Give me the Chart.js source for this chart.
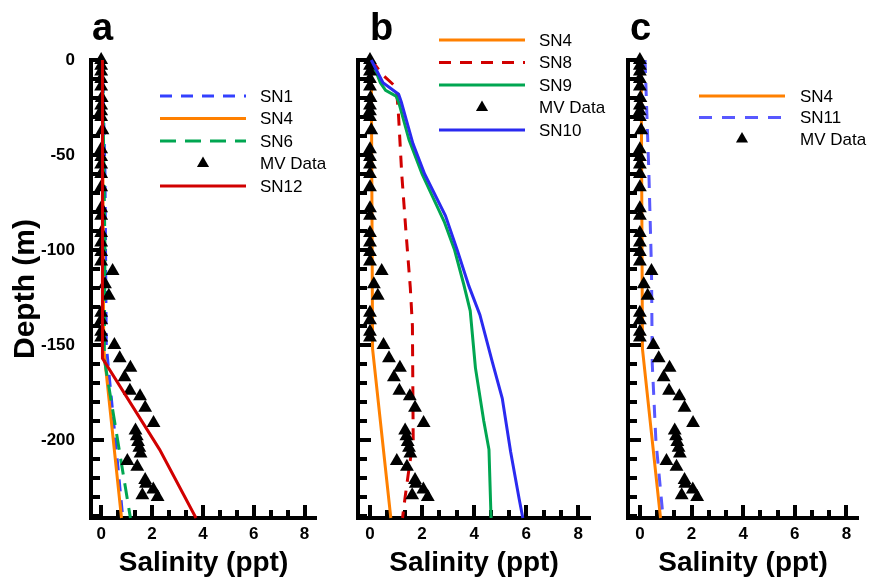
<!DOCTYPE html>
<html>
<head>
<meta charset="utf-8">
<script src="https://cdn.jsdelivr.net/npm/chart.js@4.4.1/dist/chart.umd.min.js"></script>
<style>
  html, body { margin: 0; padding: 0; background: #fff; }
  #wrap { position: relative; width: 880px; height: 581px; overflow: hidden; }
  canvas { position: absolute; top: 0; }
</style>
</head>
<body>
<div id="wrap">
  <canvas id="chartA" width="330" height="581" style="left:0"></canvas>
  <canvas id="chartB" width="280" height="581" style="left:330px"></canvas>
  <canvas id="chartC" width="280" height="581" style="left:600px"></canvas>
</div>
<script>
const FONT = "'Liberation Sans', Arial, Helvetica, sans-serif";

// ---- axis ticks ----
const X_TICKS = [0, 2, 4, 6, 8];
const Y_TICKS = [0, -50, -100, -150, -200];

// ---- data: depth (m, negative = down) and salinity (ppt) ----
const MV_DEPTH = [0, -3, -6, -10, -14, -20, -24, -27, -30, -37, -47, -51, -55, -60, -67, -78,
  -82, -91, -96, -101, -106, -111, -118, -124, -133, -137, -143, -146, -150, -157, -162, -167,
  -174, -177, -183, -191, -195, -198, -201, -204, -207, -211, -214, -221, -223, -226, -229, -230];
const MV_SAL = [0, 0, 0, 0, 0, 0.02, 0, 0, 0, 0.05, 0, 0, 0, 0, 0, 0,
  0, 0, 0, 0, 0, 0.45, 0.15, 0.3, 0, 0, 0, 0, 0.52, 0.73, 1.15, 0.92,
  1.13, 1.53, 1.73, 2.06, 1.35, 1.4, 1.45, 1.5, 1.55, 1.03, 1.42, 1.73, 1.76, 2.05, 1.62, 2.22];

const SN1_DEPTH = [0, -60, -150, -241];
const SN1_SAL   = [0.05, 0.15, 0.2, 0.85];
const SN4_DEPTH = [0, -152, -241];
const SN4_SAL   = [0.05, 0.1, 0.8];
const SN6_DEPTH = [0, -100, -157, -241];
const SN6_SAL   = [0.05, 0.15, 0.12, 1.15];
const SN12_DEPTH = [0, -157, -205, -241];
const SN12_SAL   = [0.05, 0.05, 2.3, 3.73];

const SN8_DEPTH = [0, -8, -13, -17, -30, -60, -90, -120, -140, -200, -215, -230, -241];
const SN8_SAL   = [0.05, 0.5, 0.9, 1.03, 1.1, 1.22, 1.38, 1.55, 1.63, 1.66, 1.5, 1.35, 1.25];
const SN9_DEPTH = [0, -12, -16, -19, -22, -42, -60, -85, -100, -118, -132, -162, -190, -205, -241];
const SN9_SAL   = [0.05, 0.4, 0.6, 1.0, 1.1, 1.5, 2.0, 2.85, 3.25, 3.6, 3.85, 4.05, 4.37, 4.57, 4.65];
const SN10_DEPTH = [0, -12, -18, -22, -44, -60, -82, -100, -119, -134, -159, -178, -206, -231, -241];
const SN10_SAL   = [0.05, 0.5, 1.1, 1.2, 1.65, 2.1, 2.9, 3.35, 3.8, 4.22, 4.7, 5.08, 5.4, 5.73, 5.87];

const SN11_DEPTH = [0, -20, -60, -110, -160, -200, -241];
const SN11_SAL   = [0.2, 0.25, 0.35, 0.45, 0.48, 0.62, 0.9];

const COLORS = {
  blue: '#3340ff',
  blue2: '#2a2af0',
  blue11: '#5858ff',
  orange: '#ff8000',
  green: '#00a651',
  red: '#d10000',
  black: '#000',
};

const pts = (xs, ys) => xs.map((x, i) => ({ x, y: ys[i] }));

function lineSet(label, sal, depth, color, dash) {
  return {
    label,
    data: pts(sal, depth),
    showLine: true,
    borderColor: color,
    backgroundColor: color,
    borderWidth: 3,
    borderDash: dash || [],
    pointRadius: 0,
    tension: 0,
    clip: false,
  };
}

function mvSet() {
  return {
    label: 'MV Data',
    data: pts(MV_SAL, MV_DEPTH),
    showLine: false,
    pointStyle: 'triangle',
    pointRadius: 8,
    backgroundColor: COLORS.black,
    borderColor: COLORS.black,
    borderWidth: 0,
    clip: false,
  };
}

// later datasets drawn on top
function stack(sets) {
  sets.forEach((s, i) => { s.order = sets.length - i; });
  return sets;
}

// ---- inward tick marks (major + minor) ----
const innerTicks = {
  id: 'innerTicks',
  beforeDatasetsDraw(chart) {
    const { ctx, chartArea: a, scales: { x, y } } = chart;
    ctx.save();
    ctx.fillStyle = '#000';
    for (let i = 0; i <= 12; i++) {
      const px = x.getPixelForValue(i * 2 / 3);
      const len = i % 3 === 0 ? 13 : 8;
      ctx.fillRect(Math.round(px) - 2, a.bottom - len, 4, len);
    }
    for (let d = 0; d >= -240; d -= 10) {
      const py = y.getPixelForValue(d);
      const len = d % 50 === 0 ? 13 : 9;
      ctx.fillRect(a.left, Math.round(py) - 2, len, 4);
    }
    ctx.restore();
  },
};

// ---- side legend + panel letter ----
const sideLegend = {
  id: 'sideLegend',
  afterDraw(chart, args, opts) {
    const { ctx } = chart;
    ctx.save();
    ctx.fillStyle = '#000';
    ctx.font = 'bold 38px ' + FONT;
    ctx.textBaseline = 'alphabetic';
    ctx.fillText(opts.letter, opts.letterX, 40);

    ctx.font = '17px ' + FONT;
    ctx.textBaseline = 'middle';
    chart.data.datasets.forEach((ds, i) => {
      const yy = opts.y + i * opts.gap;
      if (ds.showLine) {
        ctx.strokeStyle = ds.borderColor;
        ctx.lineWidth = 3;
        ctx.setLineDash(ds.borderDash || []);
        ctx.beginPath();
        ctx.moveTo(opts.x0, yy);
        ctx.lineTo(opts.x1, yy);
        ctx.stroke();
        ctx.setLineDash([]);
      } else {
        const cx = (opts.x0 + opts.x1) / 2, r = 7;
        ctx.beginPath();
        ctx.moveTo(cx, yy - r);
        ctx.lineTo(cx + r * 0.866, yy + r * 0.5);
        ctx.lineTo(cx - r * 0.866, yy + r * 0.5);
        ctx.closePath();
        ctx.fill();
      }
      ctx.fillStyle = '#000';
      ctx.fillText(ds.label, opts.tx, yy + 1);
    });
    ctx.restore();
  },
};

function makeOptions(cfg) {
  return {
    responsive: false,
    animation: false,
    devicePixelRatio: 1,
    layout: { padding: { top: 60, left: 0, right: cfg.padRight, bottom: 0 } },
    plugins: {
      legend: { display: false },
      tooltip: { enabled: false },
      title: { display: false },
      sideLegend: cfg.legend,
    },
    scales: {
      x: {
        type: 'linear',
        min: cfg.xMin,
        max: 8.45,
        grid: { display: false },
        border: { display: true, width: 4, color: '#000' },
        afterBuildTicks: s => { s.ticks = X_TICKS.map(v => ({ value: v })); },
        ticks: {
          color: '#000',
          padding: -2,
          maxRotation: 0,
          autoSkip: false,
          font: { family: FONT, size: 17, weight: 'bold' },
        },
        title: {
          display: true,
          text: 'Salinity (ppt)',
          color: '#000',
          padding: { top: 0, bottom: 1 },
          font: { family: FONT, size: 28, weight: 'bold' },
        },
        afterFit: s => { s.height = 63; },
      },
      y: {
        type: 'linear',
        min: -241,
        max: 0,
        grid: { display: false },
        border: { display: true, width: 4, color: '#000' },
        afterBuildTicks: s => { s.ticks = Y_TICKS.map(v => ({ value: v })); },
        ticks: {
          display: cfg.yLabels,
          color: '#000',
          padding: 8,
          font: { family: FONT, size: 17, weight: 'bold' },
        },
        title: {
          display: cfg.yLabels,
          text: 'Depth (m)',
          color: '#000',
          padding: { top: 8, bottom: 0 },
          font: { family: FONT, size: 30, weight: 'bold' },
        },
        afterFit: s => { s.width = cfg.yWidth; },
      },
    },
  };
}

// ---- panel a ----
new Chart(document.getElementById('chartA'), {
  type: 'scatter',
  data: {
    datasets: stack([
      lineSet('SN1', SN1_SAL, SN1_DEPTH, COLORS.blue, [12, 9]),
      lineSet('SN4', SN4_SAL, SN4_DEPTH, COLORS.orange),
      lineSet('SN6', SN6_SAL, SN6_DEPTH, COLORS.green, [16, 9]),
      mvSet(),
      lineSet('SN12', SN12_SAL, SN12_DEPTH, COLORS.red),
    ]),
  },
  options: makeOptions({
    yLabels: true, yWidth: 91, padRight: 14, xMin: -0.4,
    legend: { letter: 'a', letterX: 92, x0: 160, x1: 246, tx: 260, y: 96, gap: 22.5 },
  }),
  plugins: [innerTicks, sideLegend],
});

// ---- panel b ----
new Chart(document.getElementById('chartB'), {
  type: 'scatter',
  data: {
    datasets: stack([
      lineSet('SN4', SN4_SAL, SN4_DEPTH, COLORS.orange),
      lineSet('SN8', SN8_SAL, SN8_DEPTH, COLORS.red, [12, 9]),
      lineSet('SN9', SN9_SAL, SN9_DEPTH, COLORS.green),
      mvSet(),
      lineSet('SN10', SN10_SAL, SN10_DEPTH, COLORS.blue2),
    ]),
  },
  options: makeOptions({
    yLabels: false, yWidth: 28, padRight: 20, xMin: -0.46,
    legend: { letter: 'b', letterX: 40, x0: 109, x1: 195, tx: 209, y: 40, gap: 22.5 },
  }),
  plugins: [innerTicks, sideLegend],
});

// ---- panel c ----
new Chart(document.getElementById('chartC'), {
  type: 'scatter',
  data: {
    datasets: stack([
      lineSet('SN4', SN4_SAL, SN4_DEPTH, COLORS.orange),
      lineSet('SN11', SN11_SAL, SN11_DEPTH, COLORS.blue11, [13, 10]),
      mvSet(),
    ]),
  },
  options: makeOptions({
    yLabels: false, yWidth: 28, padRight: 22, xMin: -0.46,
    legend: { letter: 'c', letterX: 30, x0: 99, x1: 185, tx: 200, y: 96, gap: 21.5 },
  }),
  plugins: [innerTicks, sideLegend],
});
</script>
</body>
</html>
